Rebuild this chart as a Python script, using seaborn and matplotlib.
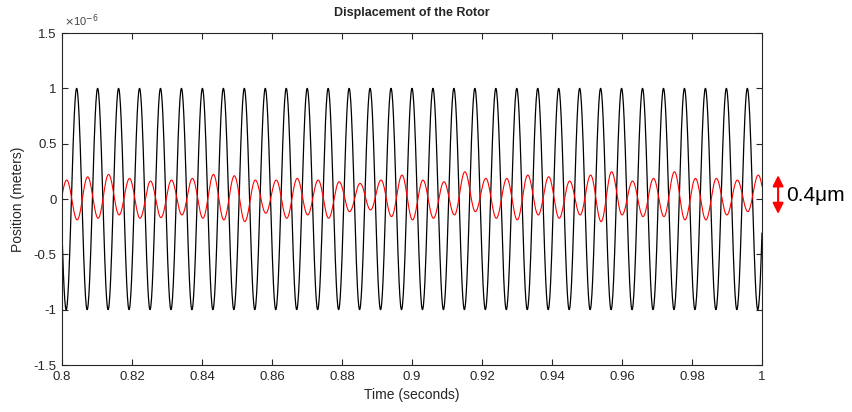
import numpy as np
import pandas as pd
import matplotlib
matplotlib.use('Agg')
import matplotlib.pyplot as plt
import seaborn as sns

# rotor speed and black reference wave (units of 1e-6 m)
freq = 167.0
black_amp = 1.0
black_first_peak = 0.80419

# red wave: first peak time, then the peak / trough heights read per cycle
red_first_peak = 0.80134
red_peaks = [0.171, 0.200, 0.222, 0.186, 0.162, 0.171, 0.186, 0.222, 0.210, 0.171, 0.171, 0.186,
             0.171, 0.156, 0.141, 0.171, 0.216, 0.171, 0.156, 0.246, 0.186, 0.186, 0.216,
             0.201, 0.162, 0.216, 0.246, 0.162, 0.186, 0.246, 0.186, 0.186, 0.171, 0.216]
red_troughs = [-0.189, -0.174, -0.144, -0.174, -0.168, -0.144, -0.174, -0.189, -0.204, -0.129, -0.174,
               -0.144, -0.174, -0.114, -0.099, -0.159, -0.189, -0.174, -0.144, -0.114, -0.174, -0.189,
               -0.144, -0.174, -0.144, -0.204, -0.144, -0.159, -0.159, -0.189, -0.189, -0.144, -0.114]
red_edge_troughs = [-0.170, -0.150]   # just before the start / after the end of the window

xticks = [0.8, 0.82, 0.84, 0.86, 0.88, 0.9, 0.92, 0.94, 0.96, 0.98, 1.0]
xticklabels = ['0.8', '0.82', '0.84', '0.86', '0.88', '0.9', '0.92', '0.94', '0.96', '0.98', '1']
yticks = [-1.5, -1, -0.5, 0, 0.5, 1, 1.5]
yticklabels = ['-1.5', '-1', '-0.5', '0', '0.5', '1', '1.5']

period = 1.0 / freq
t = np.linspace(0.8, 1.0, 2001)

black = black_amp * np.cos(2 * np.pi * freq * (t - black_first_peak))

# extremes of the red wave, joined by half cosines
ext_v = [red_edge_troughs[0]]
for i, p in enumerate(red_peaks):
    ext_v.append(p)
    if i < len(red_troughs):
        ext_v.append(red_troughs[i])
ext_v.append(red_edge_troughs[1])
ext_t = red_first_peak + period / 2 * (np.arange(len(ext_v)) - 1)
ext_v = np.array(ext_v)
idx = np.clip(np.searchsorted(ext_t, t, side='right') - 1, 0, len(ext_t) - 2)
frac = (t - ext_t[idx]) / (ext_t[idx + 1] - ext_t[idx])
red = ext_v[idx] + (ext_v[idx + 1] - ext_v[idx]) * (1 - np.cos(np.pi * frac)) / 2

df = pd.DataFrame({'t': t, 'black': black, 'red': red})

sns.set_style("ticks")
plt.rcParams['font.family'] = ['Liberation Sans', 'DejaVu Sans']
plt.rcParams['axes.unicode_minus'] = False

fig = plt.figure(figsize=(8.52, 4.12), dpi=100)
ax = fig.add_axes([62 / 852, 1 - 365 / 412, 700 / 852, 332 / 412])

sns.lineplot(data=df, x='t', y='black', color='black', lw=0.9, sort=False, estimator=None, ax=ax)
sns.lineplot(data=df, x='t', y='red', color='red', lw=0.8, sort=False, estimator=None, ax=ax)

ax.set_xlim(0.8, 1.0)
ax.set_ylim(-1.5, 1.5)
ax.set_xticks(xticks)
ax.set_xticklabels(xticklabels)
ax.set_yticks(yticks)
ax.set_yticklabels(yticklabels)
ax.tick_params(direction='in', length=4, width=0.8, top=True, right=True,
               labelsize=9.5, colors='#262626', pad=4)
for s in ax.spines.values():
    s.set_linewidth(0.8)
    s.set_color('#262626')

ax.set_xlabel('Time (seconds)', fontsize=10, color='#262626', labelpad=4)
ax.set_ylabel('Position (meters)', fontsize=10, color='#262626', labelpad=6)
ax.set_title('Displacement of the Rotor', fontsize=9, fontweight='bold', pad=12)
ax.text(0.003, 1.012, r'$\times$10$^{-6}$', transform=ax.transAxes, fontsize=8,
        color='#444444', ha='left', va='bottom')

# peak-to-peak marker
ax.annotate('', xy=(1.023, -0.16), xytext=(1.023, 0.24),
            xycoords=('axes fraction', 'data'), textcoords=('axes fraction', 'data'),
            arrowprops=dict(arrowstyle='<|-|>', color='red', lw=1.5, mutation_scale=16),
            annotation_clip=False)
ax.text(1.035, 0.03, '0.4μm', transform=ax.get_yaxis_transform(), fontsize=15,
        ha='left', va='center', color='black')

fig.savefig('out.png', dpi=100)
